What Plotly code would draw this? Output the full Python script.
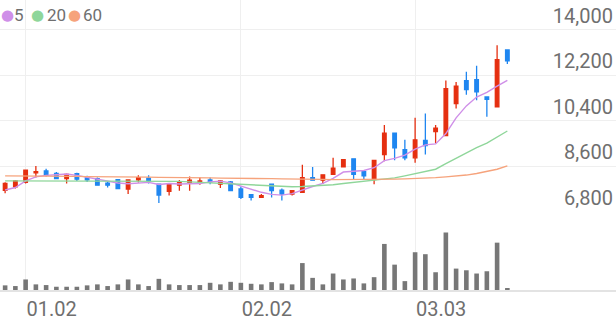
import plotly.graph_objects as go

dates = ["12.29", "12.30", "01.02", "01.05", "01.06", "01.07", "01.08", "01.09", "01.12", "01.13",
         "01.14", "01.15", "01.16", "01.19", "01.20", "01.21", "01.22", "01.23", "01.26", "01.27",
         "01.28", "01.29", "01.30", "02.02", "02.03", "02.04", "02.05", "02.06", "02.09", "02.10",
         "02.11", "02.12", "02.13", "02.19", "02.20", "02.23", "02.24", "02.25", "02.26", "02.27",
         "03.03", "03.04", "03.05", "03.06", "03.09", "03.10", "03.11", "03.12", "03.13", "03.16"]

opens = [7660, 7800, 7970, 8350, 8420, 8330, 8120, 8320, 8150, 8120,
         7940, 8080, 7710, 8070, 8140, 7900, 7620, 7860, 7970, 7980,
         8070, 7900, 7990, 7710, 7490, 7380, 7900, 7670, 7510, 7580,
         8160, 8060, 8290, 8580, 8900, 8400, 8080, 9070, 9910, 9260,
         8940, 9630, 9980, 9820, 11080, 11990, 12030, 11340, 10950, 13200]
highs = [7980, 8070, 8470, 8620, 8510, 8380, 8320, 8350, 8230, 8160,
         8020, 8100, 8100, 8250, 8250, 7930, 7930, 8070, 8200, 8160,
         8160, 8070, 8030, 7810, 7510, 7510, 7930, 7730, 7670, 8670,
         8580, 8290, 8940, 8890, 8910, 8450, 8850, 10240, 9920, 9650,
         10520, 10690, 10240, 11990, 11930, 12340, 12570, 11350, 13380, 13210]
lows = [7540, 7730, 7930, 8160, 8200, 8100, 7930, 8030, 7990, 7840,
        7770, 7710, 7510, 7970, 7930, 7160, 7450, 7640, 7640, 7880,
        7900, 7750, 7620, 7320, 7260, 7360, 7380, 7260, 7450, 7580,
        8060, 7910, 8270, 8560, 8100, 8100, 7900, 8810, 8840, 8840,
        8750, 9070, 9520, 9820, 10890, 11430, 11210, 10560, 10950, 12640]
closes = [7930, 8030, 8450, 8400, 8250, 8120, 8290, 8100, 8070, 7860,
          7860, 7730, 8070, 8160, 8030, 7470, 7900, 7970, 8060, 8030,
          7990, 8030, 7650, 7380, 7380, 7450, 7650, 7510, 7650, 8160,
          8060, 8270, 8530, 8870, 8290, 8230, 8840, 9910, 9330, 8940,
          9650, 9420, 10110, 11670, 11770, 11630, 11540, 11250, 12810, 12770]

ma5 = [7670, 7770, 8030, 8190, 8250, 8270, 8300, 8250, 8170, 8090,
       8040, 7950, 7920, 7940, 7970, 7890, 7930, 7910, 7920, 7930,
       7990, 8020, 7950, 7820, 7690, 7580, 7500, 7470, 7530, 7680,
       7810, 7930, 8130, 8380, 8400, 8440, 8550, 8830, 8920, 9050,
       9280, 9450, 9490, 9900, 10520, 10990, 11340, 11520, 11770, 12000]
ma20 = [8030, 8030, 8030, 8030, 8030, 8030, 8030, 8030, 8030, 8030,
        8030, 8010, 8010, 8010, 8010, 8010, 8010, 8010, 7990, 7970,
        7950, 7930, 7910, 7890, 7860, 7840, 7820, 7800, 7800, 7810,
        7830, 7850, 7880, 7930, 7970, 8010, 8050, 8100, 8150, 8230,
        8320, 8400, 8490, 8710, 8930, 9140, 9340, 9520, 9760, 10000]
ma60 = [8230, 8230, 8230, 8220, 8220, 8220, 8210, 8210, 8200, 8200,
        8190, 8190, 8190, 8180, 8180, 8170, 8170, 8160, 8160, 8150,
        8150, 8140, 8140, 8130, 8130, 8120, 8120, 8110, 8110, 8100,
        8090, 8090, 8080, 8080, 8080, 8090, 8090, 8100, 8100, 8110,
        8120, 8130, 8160, 8190, 8220, 8260, 8320, 8400, 8490, 8620]

volumes = [94, 80, 214, 114, 100, 66, 66, 66, 94, 114,
           80, 114, 214, 114, 80, 226, 114, 100, 100, 100,
           146, 114, 166, 146, 126, 114, 160, 134, 114, 546,
           246, 114, 334, 214, 234, 134, 260, 934, 514, 180,
           766, 726, 360, 1166, 434, 400, 334, 380, 960, 40]

price_ticks = [6800, 8600, 10400, 12200, 14000]
date_ticks = ["01.02", "02.02", "03.03"]
ma_names = ["5", "20", "60"]

UP = "#e52f10"
DOWN = "#1f86f0"
MA_COLORS = ["#cf8fe8", "#8fd69a", "#f6a37c"]
TXT = "#6f6f6f"
GRID = "#efefef"

W, H = 616, 321
PLOT_H = 294  # plot area height in px (bottom margin 27)
split = (PLOT_H - 215) / PLOT_H

fig = go.Figure()

fig.add_trace(go.Candlestick(
    x=dates, open=opens, high=highs, low=lows, close=closes,
    increasing=dict(line=dict(color=UP, width=1.3), fillcolor=UP),
    decreasing=dict(line=dict(color=DOWN, width=1.3), fillcolor=DOWN),
    whiskerwidth=0, showlegend=False, xaxis="x", yaxis="y",
))

for vals, col in zip([ma5, ma20, ma60], MA_COLORS):
    fig.add_trace(go.Scatter(x=dates, y=vals, mode="lines",
                             line=dict(color=col, width=1.4),
                             showlegend=False, xaxis="x", yaxis="y"))

fig.add_trace(go.Bar(x=dates, y=volumes, marker=dict(color="#777777", line=dict(width=0)),
                     width=0.45, showlegend=False, xaxis="x2", yaxis="y2"))

xr = [-0.5, 59.6]
common_x = dict(type="category", categoryorder="array", categoryarray=dates,
                range=xr, showgrid=True, gridcolor=GRID, gridwidth=1,
                tickvals=date_ticks, zeroline=False, ticks="")

fig.update_layout(
    width=W, height=H,
    margin=dict(l=0, r=0, t=0, b=H - PLOT_H),
    paper_bgcolor="white", plot_bgcolor="white",
    boxgap=0.5,
    font=dict(family="Roboto", color=TXT, size=20),
    xaxis=dict(**common_x, anchor="y", showticklabels=False,
               rangeslider=dict(visible=False), domain=[0, 1]),
    xaxis2=dict(**common_x, anchor="y2", showticklabels=True, ticktext=date_ticks,
                ticklabelposition="outside right",
                showline=True, linecolor="#e3e3e3", linewidth=2,
                tickfont=dict(family="Roboto", size=20, color=TXT), domain=[0, 1]),
    yaxis=dict(domain=[split, 1], range=[6800, 15168], side="right",
               tickvals=price_ticks, tickformat=",d",
               ticklabelposition="inside top", showgrid=True, gridcolor=GRID,
               zeroline=False, showline=False, ticks="",
               tickfont=dict(family="Roboto", size=20, color=TXT)),
    yaxis2=dict(domain=[0, split], range=[0, 1580], showticklabels=False,
                showgrid=False, zeroline=False, showline=False),
    bargap=0.5,
)

# legend (MA periods)
circle_px = [7, 37, 74]
label_px = [14, 47, 83]
ly = (PLOT_H - 15) / PLOT_H
for name, col, cx, tx in zip(ma_names, MA_COLORS, circle_px, label_px):
    fig.add_annotation(x=cx / W, y=ly, xref="paper", yref="paper", text="●",
                       showarrow=False, xanchor="center", yanchor="middle",
                       font=dict(family="DejaVu Sans", size=15, color=col))
    fig.add_annotation(x=tx / W, y=ly, xref="paper", yref="paper", text=name,
                       showarrow=False, xanchor="left", yanchor="middle",
                       xshift=-2,
                       font=dict(family="Roboto", size=17, color=TXT))

fig.write_html("out.html")
